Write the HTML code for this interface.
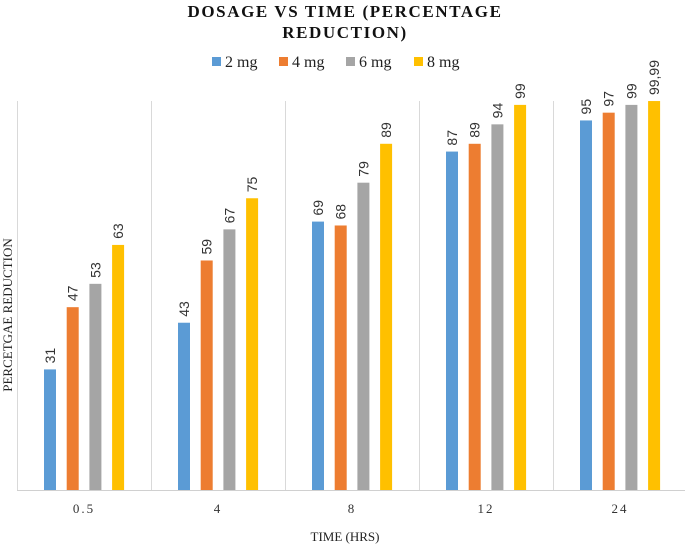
<!DOCTYPE html>
<html><head><meta charset="utf-8">
<style>body{margin:0;background:#fff}svg{display:block}</style></head>
<body>
<svg width="685" height="546" xmlns="http://www.w3.org/2000/svg">
<text x="345" y="17" text-anchor="middle" font-family="Liberation Serif, serif" font-weight="bold" font-size="17" letter-spacing="1.6" fill="#111">DOSAGE VS TIME (PERCENTAGE</text>
<text x="345" y="38" text-anchor="middle" font-family="Liberation Serif, serif" font-weight="bold" font-size="17" letter-spacing="1.6" fill="#111">REDUCTION)</text>
<g id="legend"></g>
<g id="grid"></g>
<g id="bars"></g>
<g id="xt"></g>
<text x="345" y="541" text-anchor="middle" font-family="Liberation Serif, serif" font-size="13" fill="#222">TIME (HRS)</text>
<text transform="translate(12,315) rotate(-90)" text-anchor="middle" font-family="Liberation Serif, serif" font-size="13" fill="#222">PERCETGAE REDUCTION</text>
</svg>
<script>
const categories = ["0.5","4","8","12","24"];
const seriesNames = ["2 mg","4 mg","6 mg","8 mg"];
const s2mg = [31,43,69,87,95];
const s4mg = [47,59,68,89,97];
const s6mg = [53,67,79,94,99];
const s8mg = [63,75,89,99,99.99];
const valueLabels = [["31","43","69","87","95"],["47","59","68","89","97"],["53","67","79","94","99"],["63","75","89","99","99,99"]];
const series = [s2mg,s4mg,s6mg,s8mg];
const colors = ["#5b9bd5","#ed7d31","#a5a5a5","#ffc000"];
const NS="http://www.w3.org/2000/svg";
const plotLeft=17, catW=134, base=490, plotTop=101, yMax=100;
const yScale = v => base - v/yMax*(base-plotTop);
const xCat = i => plotLeft + i*catW;
function mk(tag, attrs, parent){const e=document.createElementNS(NS,tag);for(const k in attrs)e.setAttribute(k,attrs[k]);parent.appendChild(e);return e;}
const grid=document.getElementById('grid');
for(let i=0;i<=categories.length;i++){
  const l=mk('line',{x1:xCat(i)+0.5,x2:xCat(i)+0.5,y1:plotTop,y2:base,stroke:'#d9d9d9','stroke-width':1},grid);
  
  
}
const ax=mk('line',{x1:plotLeft,x2:685,y1:base+0.5,y2:base+0.5,stroke:'#d0d0d0','stroke-width':1},grid);


const bars=document.getElementById('bars');
series.forEach((s,si)=>{
  s.forEach((v,ci)=>{
    const bx=xCat(ci)+27+si*22.7;
    const r=mk('rect',{x:bx,y:yScale(v),width:12,height:base-yScale(v),fill:colors[si]},bars);
    
    
    const cx=bx+6+5, cy=yScale(v)-6;
    const t=mk('text',{transform:`translate(${cx},${cy}) rotate(-90)`,'font-family':'Liberation Sans, sans-serif','font-size':14,fill:'#333'},bars);
    t.textContent=valueLabels[si][ci];
    
    
  });
});
const xt=document.getElementById('xt');
categories.forEach((c,i)=>{
  const t=mk('text',{x:xCat(i)+catW/2,y:513,'text-anchor':'middle','font-family':'Liberation Serif, serif','font-size':13,'letter-spacing':2,fill:'#333'},xt);
  t.textContent=c;
  
  
});
const lg=document.getElementById('legend');
const lx=[212,279,346,414];
seriesNames.forEach((n,i)=>{
  const r=mk('rect',{x:lx[i],y:57,width:9,height:9,fill:colors[i]},lg);
  
  
  const t=mk('text',{x:lx[i]+13,y:67,'font-family':'Liberation Serif, serif','font-size':16,fill:'#222'},lg);
  t.textContent=n;
  
  
});
</script>
</body></html>
